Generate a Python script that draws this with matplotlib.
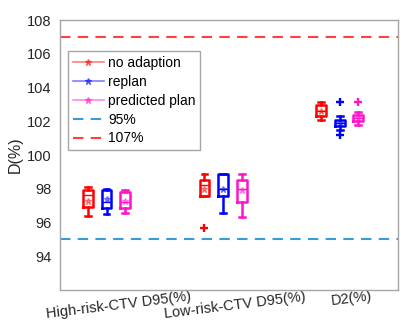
import matplotlib
matplotlib.use("Agg")
import matplotlib.pyplot as plt
import matplotlib.transforms as mtransforms

plt.rcParams['font.family'] = ['Liberation Sans', 'DejaVu Sans']

categories = ["High-risk-CTV D95(%)", "Low-risk-CTV D95(%)", "D2(%)"]
series = ["no adaption", "replan", "predicted plan"]
colors = ["#FF0000", "#0000FF", "#FF14C8"]

# per series, per category: whisker low, q1, median, q3, whisker high, mean
whislo = {"no adaption": [96.38, 97.56, 102.09],
          "replan": [96.52, 96.54, 101.46],
          "predicted plan": [96.58, 96.30, 101.76]}
q1 = {"no adaption": [96.91, 97.56, 102.33],
      "replan": [96.88, 97.56, 101.70],
      "predicted plan": [96.84, 97.21, 101.99]}
med = {"no adaption": [97.60, 98.25, 102.64],
       "replan": [97.20, 98.00, 101.90],
       "predicted plan": [97.23, 97.96, 102.20]}
q3 = {"no adaption": [97.90, 98.51, 102.94],
      "replan": [97.90, 98.85, 102.10],
      "predicted plan": [97.82, 98.51, 102.39]}
whishi = {"no adaption": [98.12, 98.85, 103.14],
          "replan": [97.96, 98.85, 102.29],
          "predicted plan": [97.92, 98.85, 102.55]}
means = {"no adaption": [97.27, 98.00, 102.60],
         "replan": [97.40, 98.00, 101.90],
         "predicted plan": [97.30, 97.95, 102.20]}
fliers = {"no adaption": [[], [95.65], []],
          "replan": [[], [], [103.12, 101.20]],
          "predicted plan": [[], [], [103.16]]}

ref_labels = ["95%", "107%"]
ref_values = [95, 107]
ref_colors = ["#3A9AD9", "#FF4040"]

yticks = [94, 96, 98, 100, 102, 104, 106, 108]

fig = plt.figure(figsize=(4.02, 3.25), dpi=100)
ax = fig.add_axes([0.149, 0.108, 0.841, 0.830])

offsets = [-0.16, 0.0, 0.16]
handles = []
for si, s in enumerate(series):
    c = colors[si]
    stats = []
    for ci in range(len(categories)):
        stats.append(dict(whislo=whislo[s][ci], q1=q1[s][ci], med=med[s][ci],
                          q3=q3[s][ci], whishi=whishi[s][ci], mean=means[s][ci],
                          fliers=fliers[s][ci]))
    pos = [ci + 1 + offsets[si] for ci in range(len(categories))]
    ax.bxp(stats, positions=pos, widths=0.085, showmeans=True,
           boxprops=dict(color=c, lw=1.8),
           whiskerprops=dict(color=c, lw=1.8),
           capprops=dict(color=c, lw=1.8),
           medianprops=dict(color=c, lw=1.0),
           meanprops=dict(marker='*', markersize=5, markeredgecolor=c,
                          markerfacecolor=c, alpha=0.45),
           flierprops=dict(marker='+', markersize=6, markeredgecolor=c,
                           markeredgewidth=1.7),
           capwidths=0.05)
    h, = ax.plot([], [], color=c, alpha=0.5, lw=1.2, marker='*',
                 markersize=5, label=s)
    handles.append(h)

for lab, v, c in zip(ref_labels, ref_values, ref_colors):
    h = ax.axhline(v, color=c, ls=(0, (5, 3.5)), lw=1.5, label=lab)
    handles.append(h)

ax.set_xlim(0.6, 3.5)
ax.set_ylim(92, 108)
ax.set_yticks(yticks)
ax.set_yticklabels([str(t) for t in yticks])
ax.set_xticks([1, 2, 3])
ax.set_xticklabels(categories, rotation=7, ha='center')
ax.tick_params(axis='both', labelsize=10.5, colors='#262626', length=0)
ax.tick_params(axis='y', pad=6)
ax.tick_params(axis='x', pad=1)
for lbl in ax.get_xticklabels():
    lbl.set_transform(lbl.get_transform() +
                      mtransforms.ScaledTranslation(0.12, 0.02, fig.dpi_scale_trans))
for sp in ax.spines.values():
    sp.set_color('#A6A6A6')
    sp.set_linewidth(1.0)
ax.set_ylabel("D(%)", fontsize=11.5, color='#262626', labelpad=3)

leg = ax.legend(handles=handles, loc='upper left', bbox_to_anchor=(0.025, 0.885),
                fontsize=10, frameon=True, fancybox=False, edgecolor='#A6A6A6',
                framealpha=1, handlelength=2.2, borderpad=0.35, labelspacing=0.35,
                handletextpad=0.3, borderaxespad=0)
leg.get_frame().set_linewidth(1.0)

fig.savefig("out.png", dpi=100)
